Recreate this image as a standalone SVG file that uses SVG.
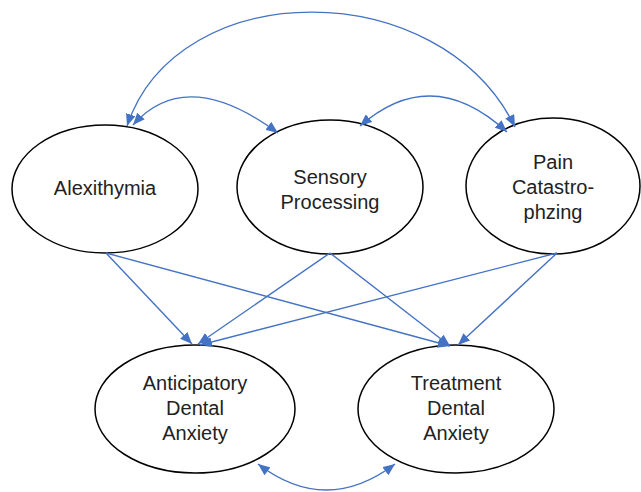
<svg xmlns="http://www.w3.org/2000/svg" width="641" height="492" viewBox="0 0 641 492">
<defs>
<marker id="ah" viewBox="0 0 12 10" refX="12" refY="5" markerWidth="12" markerHeight="10" markerUnits="userSpaceOnUse" orient="auto-start-reverse">
<path d="M0,0 L12,5 L0,10 z" fill="#4472C4"/>
</marker>
<style>
.node ellipse{fill:#fff;stroke:#000;stroke-width:1.5}
.node text{font-family:"Liberation Sans",Arial,sans-serif;font-size:20px;fill:#222;text-anchor:middle;dominant-baseline:central}
.edges path,.edges line{fill:none;stroke:#4472C4;stroke-width:1.4}
</style>
</defs>
<rect width="641" height="492" fill="#fff"/>
<g id="n-alex" class="node">
<ellipse cx="105" cy="189" rx="93" ry="64"/>
<text x="105" y="188">Alexithymia</text>
</g>
<g id="n-sens" class="node">
<ellipse cx="330" cy="187" rx="93" ry="67"/>
<text x="330" y="177">Sensory</text>
<text x="330" y="202">Processing</text>
</g>
<g id="n-pain" class="node">
<ellipse cx="553" cy="186" rx="87" ry="68"/>
<text x="553" y="162">Pain</text>
<text x="553" y="187">Catastro-</text>
<text x="553" y="212">phzing</text>
</g>
<g id="n-ant" class="node">
<ellipse cx="195" cy="409" rx="100" ry="64"/>
<text x="195" y="383">Anticipatory</text>
<text x="195" y="408">Dental</text>
<text x="195" y="433">Anxiety</text>
</g>
<g id="n-treat" class="node">
<ellipse cx="456" cy="409" rx="98" ry="64"/>
<text x="456" y="383">Treatment</text>
<text x="456" y="408">Dental</text>
<text x="456" y="433">Anxiety</text>
</g>
<g id="edges" class="edges">
<path d="M127,126 C178,-26 440,-26 515,127" marker-start="url(#ah)" marker-end="url(#ah)"/>
<path d="M133,125 Q186,65 278,133" marker-start="url(#ah)" marker-end="url(#ah)"/>
<path d="M360,126 Q432,63 507,132" marker-start="url(#ah)" marker-end="url(#ah)"/>
<path d="M258,464 Q326,516 395,464" marker-start="url(#ah)" marker-end="url(#ah)"/>
<line x1="106" y1="253" x2="192" y2="344" marker-end="url(#ah)"/>
<line x1="106" y1="253" x2="450" y2="346" marker-end="url(#ah)"/>
<line x1="330" y1="253" x2="198" y2="344" marker-end="url(#ah)"/>
<line x1="330" y1="253" x2="450" y2="346" marker-end="url(#ah)"/>
<line x1="557" y1="253" x2="200" y2="345" marker-end="url(#ah)"/>
<line x1="557" y1="253" x2="458" y2="345" marker-end="url(#ah)"/>
</g>
</svg>
